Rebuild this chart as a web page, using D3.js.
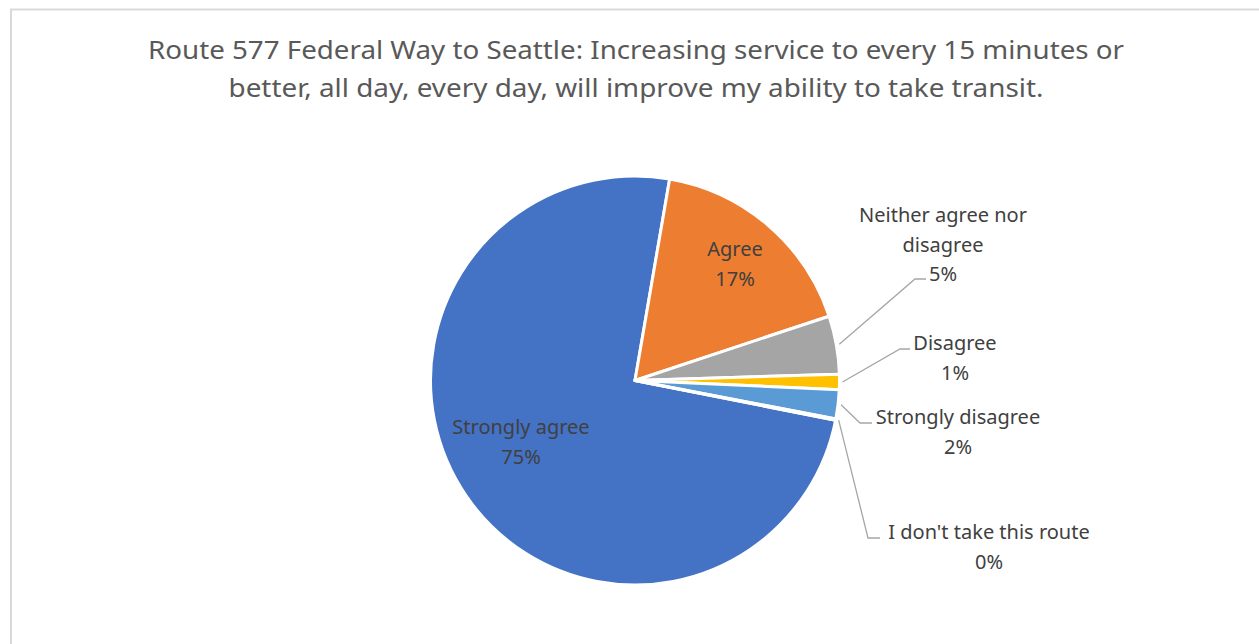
<!DOCTYPE html>
<html>
<head>
<meta charset="utf-8">
<script src="https://cdn.jsdelivr.net/npm/d3@7"></script>
<style>
  body { margin: 0; background: #fff; }
  text { font-family: "Noto Sans", "Open Sans", sans-serif; }
</style>
</head>
<body>
<script>
var width = 1259;
var height = 644;

// data
var categories = ["Strongly agree", "Agree", "Neither agree nor disagree", "Disagree", "Strongly disagree", "I don't take this route"];
var values = [74.6, 17.2, 4.6, 1.2, 2.3, 0.1];
var pctLabels = ["75%", "17%", "5%", "1%", "2%", "0%"];
var labelLines = [["Strongly agree"], ["Agree"], ["Neither agree nor", "disagree"], ["Disagree"], ["Strongly disagree"], ["I don't take this route"]];
var colors = ["#4472c4", "#ed7d31", "#a5a5a5", "#ffc000", "#5b9bd5", "#70ad47"];
var titleLines = ["Route 577 Federal Way to Seattle: Increasing service to every 15 minutes or",
                  "better, all day, every day, will improve my ability to take transit."];

// layout
var cx = 635, cy = 380.5, r = 204.5;
var firstAngle = 101.2; // degrees, clockwise from 12 o'clock
var titleWidths = [976, 815];
// label text centre x / first baseline y, leader elbow point (null = inside label)
var labelPos = [
  {x: 521, y: 434, elbow: null},
  {x: 735, y: 256, elbow: null},
  {x: 943, y: 222, elbow: [915, 279, 926]},
  {x: 955, y: 350, elbow: [900, 349, 910]},
  {x: 958, y: 424, elbow: [860, 423, 872]},
  {x: 989, y: 539, elbow: [868, 538, 880]}
];

var svg = d3.select("body").append("svg")
  .attr("width", width)
  .attr("height", height);

svg.append("rect")
  .attr("x", 11).attr("y", 9.5)
  .attr("width", width + 20).attr("height", height + 20)
  .attr("fill", "#fff")
  .attr("stroke", "#d9d9d9")
  .attr("stroke-width", 2);

svg.append("g").selectAll("text")
  .data(titleLines)
  .join("text")
  .attr("x", 636)
  .attr("y", function(d, i) { return 59 + i * 38; })
  .attr("text-anchor", "middle")
  .attr("font-size", 26)
  .attr("fill", "#595959")
  .attr("textLength", function(d, i) { return titleWidths[i]; })
  .attr("lengthAdjust", "spacingAndGlyphs")
  .text(function(d) { return d; });

var a0 = firstAngle * Math.PI / 180;
var pie = d3.pie().sort(null).startAngle(a0).endAngle(a0 + 2 * Math.PI);
var arcs = pie(values);
var arc = d3.arc().innerRadius(0).outerRadius(r);

var g = svg.append("g").attr("transform", "translate(" + cx + "," + cy + ")");

g.selectAll("path")
  .data(arcs)
  .join("path")
  .attr("d", arc)
  .attr("fill", function(d, i) { return colors[i]; })
  .attr("stroke", "#fff")
  .attr("stroke-width", 3)
  .attr("stroke-linejoin", "round");

// leader lines
arcs.forEach(function(d, i) {
  var p = labelPos[i];
  if (!p.elbow) return;
  var mid = (d.startAngle + d.endAngle) / 2;
  var sx = cx + Math.sin(mid) * (r + 3);
  var sy = cy - Math.cos(mid) * (r + 3);
  svg.append("polyline")
    .attr("points", [[sx, sy], [p.elbow[0], p.elbow[1]], [p.elbow[2], p.elbow[1]]].join(" "))
    .attr("fill", "none")
    .attr("stroke", "#a6a6a6")
    .attr("stroke-width", 1.3);
});

// labels
var lg = svg.append("g");
categories.forEach(function(c, i) {
  var p = labelPos[i];
  var lines = labelLines[i].concat([pctLabels[i]]);
  lg.append("text")
    .attr("x", p.x)
    .attr("y", p.y)
    .attr("text-anchor", "middle")
    .attr("font-size", 20)
    .attr("fill", "#404040")
    .selectAll("tspan")
    .data(lines)
    .join("tspan")
    .attr("x", p.x)
    .attr("dy", function(d, j) { return j === 0 ? 0 : 29.5; })
    .text(function(d) { return d; });
});
</script>
</body>
</html>
